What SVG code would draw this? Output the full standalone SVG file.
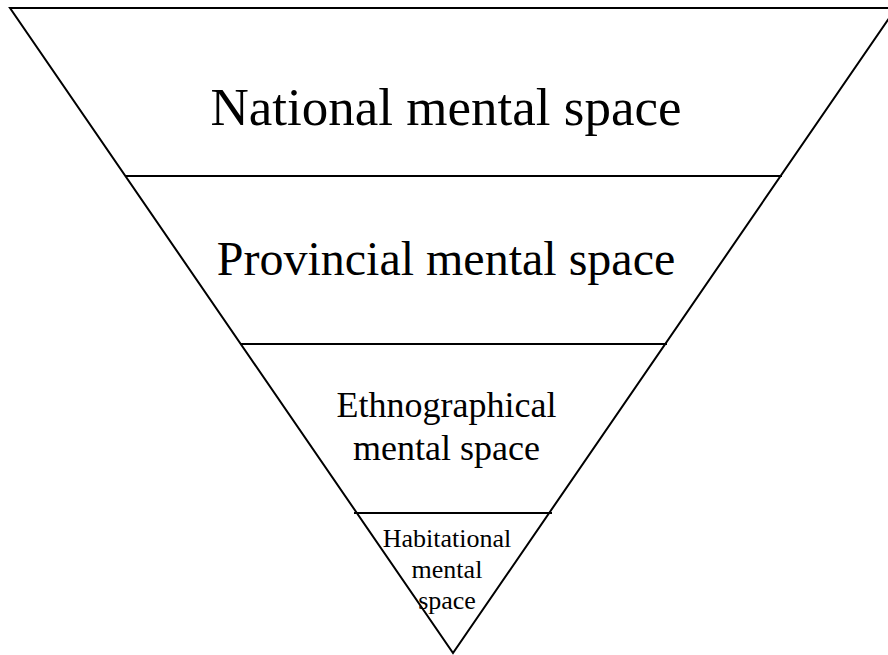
<svg xmlns="http://www.w3.org/2000/svg" width="888" height="655" viewBox="0 0 888 655">
  <style>
    .edge { fill: none; stroke: #000; stroke-width: 2; stroke-linejoin: miter; }
    .lbl { font-family: "Liberation Serif", "Times New Roman", serif; fill: #000; text-anchor: middle; }
  </style>
  <rect width="888" height="655" fill="#fff"/>
  <!-- outer inverted triangle -->
  <g id="outline">
    <path class="edge" d="M10 8 L896 8 L453 653 Z"/>
  </g>
  <!-- tier dividers -->
  <g id="dividers">
    <line class="edge" x1="125" y1="176" x2="782" y2="176"/>
    <line class="edge" x1="240" y1="344" x2="667" y2="344"/>
    <line class="edge" x1="354" y1="513" x2="552" y2="513"/>
  </g>
  <g id="national">
    <text class="lbl" x="446" y="125" font-size="53">National mental space</text>
  </g>
  <g id="provincial">
    <text class="lbl" x="446" y="275" font-size="48">Provincial mental space</text>
  </g>
  <g id="ethnographical">
    <text class="lbl" x="446.5" y="417" font-size="36">Ethnographical</text>
    <text class="lbl" x="446.5" y="460" font-size="36">mental space</text>
  </g>
  <g id="habitational">
    <text class="lbl" x="447" y="547" font-size="26">Habitational</text>
    <text class="lbl" x="447" y="578" font-size="26">mental</text>
    <text class="lbl" x="447" y="609" font-size="26">space</text>
  </g>
</svg>
